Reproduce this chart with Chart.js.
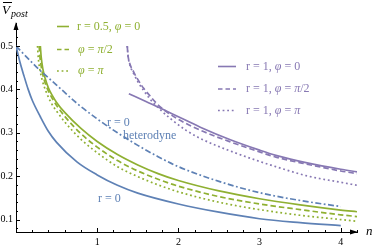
<!DOCTYPE html>
<html><head><meta charset="utf-8">
<script src="https://cdn.jsdelivr.net/npm/chart.js@4.4.0/dist/chart.umd.min.js"></script>
<style>html,body{margin:0;padding:0;background:#fff;}#wrap{width:374px;height:250px;position:relative;}</style>
</head><body><div id="wrap"><canvas id="c" width="374" height="250"></canvas></div>
<script>
// ---- data ----
const blueSolidN = [0,0.05,0.1,0.15,0.2,0.3,0.4,0.5,0.75,1,1.25,1.5,2,2.5,3,3.5,4];
const blueSolidV = [0.5,0.462,0.43,0.4,0.375,0.337,0.303,0.278,0.233,0.203,0.179,0.161,0.136,0.117,0.102,0.093,0.086];
const hetN = [0,0.25,0.5,0.75,1,1.25,1.5,1.75,2,2.5,3,3.5,4];
const hetV = [0.5,0.452,0.41,0.368,0.332,0.3,0.271,0.245,0.222,0.188,0.162,0.144,0.13];
const gSolidN = [0.30,0.31,0.33,0.36,0.40,0.45,0.5,0.6,0.8,1.0,1.25,1.5,1.75,2,2.5,3,3.5,4,4.2];
const gSolidV = [0.50,0.475,0.448,0.425,0.403,0.385,0.37,0.347,0.31,0.28,0.25,0.226,0.206,0.19,0.166,0.148,0.134,0.122,0.118];
const gDashN = [0.285,0.295,0.315,0.345,0.39,0.45,0.5,0.6,0.8,1.0,1.25,1.5,1.75,2,2.5,3,3.5,4,4.2];
const gDashV = [0.50,0.475,0.448,0.423,0.4,0.378,0.363,0.338,0.298,0.267,0.236,0.212,0.193,0.177,0.153,0.136,0.123,0.111,0.107];
const gDotN = [0.265,0.275,0.295,0.325,0.37,0.43,0.5,0.6,0.8,1.0,1.25,1.5,1.75,2,2.5,3,3.5,4,4.2];
const gDotV = [0.50,0.472,0.445,0.42,0.395,0.37,0.35,0.325,0.285,0.254,0.222,0.199,0.18,0.164,0.14,0.123,0.11,0.1,0.096];
const pSolidN = [1.39,1.6,1.8,2.0,2.27,2.64,3.0,3.2,3.6,4.0,4.2];
const pSolidV = [0.39,0.372,0.355,0.337,0.313,0.284,0.26,0.248,0.23,0.216,0.21];
const pDashN = [1.37,1.38,1.40,1.45,1.5,1.57,1.65,1.74,1.85,2.0,2.27,2.64,3.0,3.2,3.6,4.0,4.2];
const pDashV = [0.5,0.478,0.46,0.44,0.423,0.403,0.385,0.366,0.349,0.331,0.306,0.279,0.256,0.244,0.227,0.212,0.206];
const pDotN = [1.37,1.38,1.40,1.45,1.5,1.57,1.65,1.74,1.9,2.1,2.27,2.64,3.0,3.2,3.6,4.0,4.2];
const pDotV = [0.5,0.478,0.458,0.436,0.418,0.398,0.378,0.36,0.333,0.305,0.287,0.258,0.234,0.222,0.2,0.186,0.179];
const xTickLabels = [1,2,3,4];
const yTickLabels = [0.1,0.2,0.3,0.4,0.5];

const BLUE='#5E81B5', GREEN='#8FB032', PURPLE='#8778B3';
const SERIF='"Liberation Serif","DejaVu Serif",serif';
const pts=(N,V)=>N.map((n,i)=>({x:n,y:V[i]}));
function ds(N,V,color,dash){return {data:pts(N,V),borderColor:color,borderWidth:1.7,borderDash:dash,
  showLine:true,pointRadius:0,fill:false,cubicInterpolationMode:'monotone'};}
const DASH=[5.5,3], DOT=[1.8,2.8], DASHDOT=[6,2.5,1.8,2.5];

function runs(ctx,x,y,parts,size,color){
  ctx.fillStyle=color; ctx.textBaseline='middle'; ctx.textAlign='left';
  for(const [t,it] of parts){ctx.font=(it?'italic ':'')+size+'px '+SERIF; ctx.fillText(t,x,y); x+=ctx.measureText(t).width;}
}
function legLine(ctx,x1,x2,y,color,dash){ctx.save();ctx.strokeStyle=color;ctx.lineWidth=1.6;ctx.setLineDash(dash);
  ctx.beginPath();ctx.moveTo(x1,y);ctx.lineTo(x2,y);ctx.stroke();ctx.restore();}

const deco={id:'deco',afterDraw(chart){
  const ctx=chart.ctx, xs=chart.scales.x, ys=chart.scales.y, ca=chart.chartArea;
  ctx.save(); ctx.strokeStyle='#000'; ctx.lineWidth=1; ctx.fillStyle='#000';
  for(let k=4;k<=27;k++){const v=k*0.02; if(v<ys.min||v>ys.max) continue;
    const y=Math.round(ys.getPixelForValue(v))+0.5, len=(k%5===0)?4:2;
    ctx.beginPath();ctx.moveTo(ca.left,y);ctx.lineTo(ca.left+len,y);ctx.stroke();}
  for(let k=1;k<=21;k++){const v=k*0.2; if(v>xs.max) continue;
    const x=Math.round(xs.getPixelForValue(v))+0.5, len=(k%5===0)?4:2;
    ctx.beginPath();ctx.moveTo(x,ca.bottom);ctx.lineTo(x,ca.bottom-len);ctx.stroke();}
  ctx.beginPath();ctx.moveTo(ca.left,ca.top-1);ctx.lineTo(ca.left-2.5,ca.top+7);ctx.lineTo(ca.left+2.5,ca.top+7);ctx.closePath();ctx.fill();
  ctx.beginPath();ctx.moveTo(ca.right+1,ca.bottom);ctx.lineTo(ca.right-7,ca.bottom-2.5);ctx.lineTo(ca.right-7,ca.bottom+2.5);ctx.closePath();ctx.fill();
  ctx.textBaseline='alphabetic'; ctx.font='italic 13px '+SERIF; ctx.fillText('n',ca.right+9,ca.bottom+3);
  ctx.font='italic 13px '+SERIF; ctx.fillText('V',2,14);
  ctx.beginPath();ctx.moveTo(3,2.5);ctx.lineTo(12,2.5);ctx.stroke();
  ctx.font='italic 10px '+SERIF; ctx.fillText('post',11,17);
  ctx.restore();
  legLine(ctx,57,69,26.5,GREEN,[]); legLine(ctx,57,69,49.5,GREEN,[4.5,3]); legLine(ctx,57,69,71,GREEN,DOT);
  runs(ctx,77,26.5,[['r = 0.5, ',0],['φ',1],[' = 0',0]],12,GREEN);
  runs(ctx,78,49.5,[['φ',1],[' = ',0],['π',1],['/2',0]],12,GREEN);
  runs(ctx,78,71,[['φ',1],[' = ',0],['π',1]],12,GREEN);
  legLine(ctx,218,236,66.5,PURPLE,[]); legLine(ctx,218,236,89,PURPLE,[4.5,3]); legLine(ctx,218,236,110.5,PURPLE,DOT);
  runs(ctx,246,66.5,[['r = 1, ',0],['φ',1],[' = 0',0]],12,PURPLE);
  runs(ctx,246,89,[['r = 1, ',0],['φ',1],[' = ',0],['π',1],['/2',0]],12,PURPLE);
  runs(ctx,246,110.5,[['r = 1, ',0],['φ',1],[' = ',0],['π',1]],12,PURPLE);
  runs(ctx,107,123,[['r = 0',0]],12,BLUE);
  runs(ctx,123,135.5,[['heterodyne',0]],12,BLUE);
  runs(ctx,98,198.5,[['r = 0',0]],12,BLUE);
}};

new Chart(document.getElementById('c'),{
  type:'scatter',
  data:{datasets:[
    ds(blueSolidN,blueSolidV,BLUE,[]),
    ds(hetN,hetV,BLUE,DASHDOT),
    ds(gSolidN,gSolidV,GREEN,[]),
    ds(gDashN,gDashV,GREEN,DASH),
    ds(gDotN,gDotV,GREEN,DOT),
    ds(pSolidN,pSolidV,PURPLE,[]),
    ds(pDashN,pDashV,PURPLE,DASH),
    ds(pDotN,pDotV,PURPLE,DOT)
  ]},
  options:{responsive:false,animation:false,devicePixelRatio:1,
    layout:{padding:{top:23,right:17,left:0,bottom:0}},
    plugins:{legend:{display:false},tooltip:{enabled:false}},
    scales:{
      x:{type:'linear',min:0,max:4.2,
        afterBuildTicks:s=>{s.ticks=xTickLabels.map(v=>({value:v}));},
        afterFit:s=>{s.height=18;},
        grid:{display:false,drawTicks:false},border:{display:true,color:'#000',width:1},
        ticks:{padding:4,color:'#000',font:{family:SERIF,size:10},callback:v=>String(v),maxRotation:0}},
      y:{type:'linear',min:0.0714,max:0.553,
        afterBuildTicks:s=>{s.ticks=yTickLabels.map(v=>({value:v}));},
        afterFit:s=>{s.width=16;},
        grid:{display:false,drawTicks:false},border:{display:true,color:'#000',width:1},
        ticks:{padding:3,color:'#000',font:{family:SERIF,size:10},callback:v=>v.toFixed(1)}}
    }},
  plugins:[deco]
});
</script></body></html>
